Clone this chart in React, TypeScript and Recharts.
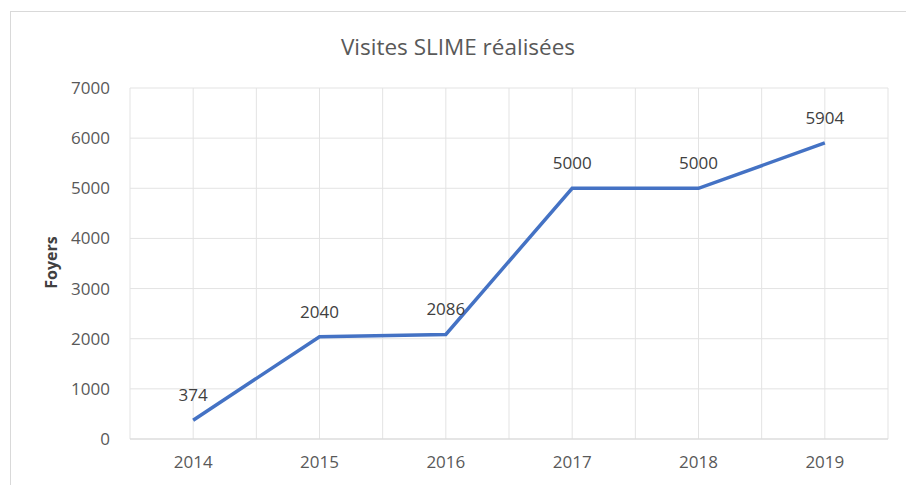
import { CartesianGrid, LabelList, Line, LineChart, XAxis, YAxis } from 'recharts';

const years = ['2014', '2015', '2016', '2017', '2018', '2019'];
const foyers = [374, 2040, 2086, 5000, 5000, 5904];
const yTicks = [0, 1000, 2000, 3000, 4000, 5000, 6000, 7000];

const data = years.map((year, i) => ({ idx: i, year, foyers: foyers[i] }));

const FONT = '"Open Sans", "Liberation Sans", sans-serif';

export default function App() {
  return (
    <div
      style={{
        position: 'absolute',
        left: 0,
        top: 0,
        width: 906,
        height: 485,
        background: '#fff',
        fontFamily: FONT,
      }}
    >
      <div
        style={{
          position: 'absolute',
          left: 10,
          top: 11,
          width: 906,
          height: 485,
          border: '1.5px solid #d9d9d9',
        }}
      />
      <div
        style={{
          position: 'absolute',
          left: 10,
          width: 896,
          top: 31,
          textAlign: 'center',
          fontSize: 22.5,
          color: '#595959',
        }}
      >
        Visites SLIME réalisées
      </div>
      <LineChart
        width={906}
        height={485}
        data={data}
        margin={{ top: 88, right: 18, bottom: 16, left: 70 }}
        style={{ position: 'absolute', left: 0, top: 0 }}
      >
        <CartesianGrid
          stroke="#e3e3e3"
          strokeWidth={1}
          verticalCoordinatesGenerator={({ offset }: any) =>
            Array.from({ length: years.length * 2 + 1 }, (_, k) => offset.left + (k * offset.width) / (years.length * 2))
          }
        />
        <XAxis
          dataKey="idx"
          type="number"
          height={30}
          domain={[-0.5, years.length - 0.5]}
          ticks={data.map((d) => d.idx)}
          tickFormatter={(v) => years[v]}
          stroke="#d9d9d9"
          tickLine={false}
          tickSize={0}
          tickMargin={17}
          tick={{ fill: '#595959', fontSize: 17, fontFamily: FONT }}
        />
        <YAxis
          domain={[0, 7000]}
          ticks={yTicks}
          width={60}
          axisLine={false}
          tickLine={false}
          tickSize={0}
          tickMargin={20}
          tick={{ fill: '#595959', fontSize: 17, fontFamily: FONT }}
          label={{
            content: ({ viewBox }: any) => {
              const x = viewBox.x - 17;
              const y = viewBox.y + viewBox.height / 2 - 1;
              return (
                <text
                  x={x}
                  y={y}
                  transform={`rotate(-90 ${x} ${y})`}
                  textAnchor="middle"
                  dominantBaseline="middle"
                  fontSize={16}
                  fontWeight="bold"
                  fill="#404040"
                  fontFamily={FONT}
                >
                  Foyers
                </text>
              );
            },
          }}
        />
        <Line
          type="linear"
          dataKey="foyers"
          stroke="#4472c4"
          strokeWidth={3.5}
          dot={false}
          activeDot={false}
          isAnimationActive={false}
        >
          <LabelList
            dataKey="foyers"
            position="top"
            offset={19}
            fill="#404040"
            fontSize={17}
            fontFamily={FONT}
          />
        </Line>
      </LineChart>
    </div>
  );
}
